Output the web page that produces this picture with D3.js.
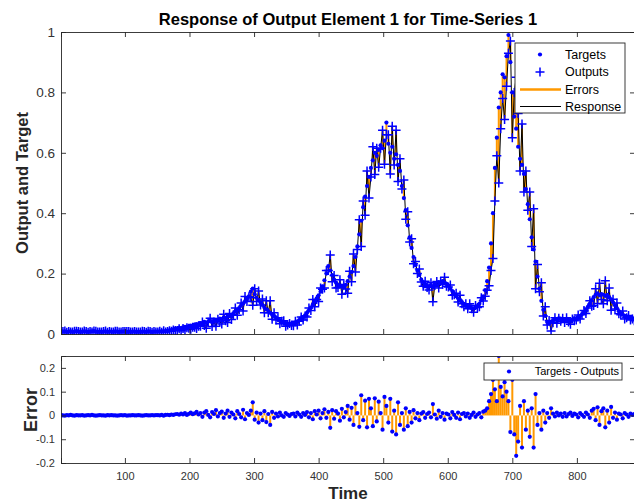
<!DOCTYPE html>
<html>
<head>
<meta charset="utf-8">
<script src="https://cdn.jsdelivr.net/npm/d3@7"></script>
<style>
  body { margin: 0; background: #fff; }
  svg { font-family: "Liberation Sans", Arial, sans-serif; }
</style>
</head>
<body>
<div id="chart"></div>
<script>
// samples are read every 3rd time step
const timeStart = 1;
const timeStep = 3;

// target values
const targets = [
  0.010,0.008,0.009,0.007,0.008,0.009,0.007,0.008,0.010,0.008,
  0.007,0.008,0.009,0.008,0.007,0.008,0.009,0.010,0.008,0.007,
  0.008,0.007,0.008,0.009,0.007,0.008,0.008,0.007,0.009,0.008,
  0.007,0.008,0.008,0.009,0.007,0.008,0.007,0.008,0.008,0.007,
  0.008,0.007,0.008,0.008,0.007,0.009,0.008,0.007,0.008,0.008,
  0.008,0.009,0.008,0.010,0.009,0.011,0.012,0.013,0.015,0.017,
  0.018,0.020,0.019,0.022,0.024,0.023,0.026,0.028,0.027,0.031,
  0.033,0.030,0.036,0.034,0.040,0.037,0.041,0.044,0.039,0.046,
  0.048,0.045,0.051,0.049,0.055,0.052,0.058,0.062,0.060,0.068,
  0.074,0.080,0.086,0.095,0.100,0.108,0.118,0.125,0.140,0.150,
  0.132,0.120,0.112,0.104,0.096,0.088,0.082,0.076,0.070,0.064,
  0.060,0.054,0.050,0.046,0.042,0.038,0.036,0.034,0.033,0.034,
  0.035,0.038,0.042,0.046,0.050,0.056,0.062,0.070,0.078,0.088,
  0.098,0.108,0.118,0.128,0.140,0.158,0.178,0.200,0.225,0.210,
  0.195,0.180,0.170,0.162,0.158,0.160,0.155,0.163,0.175,0.190,
  0.205,0.225,0.255,0.290,0.330,0.375,0.420,0.455,0.490,0.520,
  0.550,0.575,0.600,0.590,0.610,0.625,0.615,0.640,0.700,0.630,
  0.600,0.620,0.580,0.595,0.560,0.540,0.490,0.450,0.410,0.360,
  0.320,0.285,0.255,0.228,0.210,0.195,0.180,0.172,0.165,0.160,
  0.158,0.162,0.155,0.165,0.160,0.172,0.168,0.175,0.170,0.166,
  0.160,0.150,0.142,0.132,0.125,0.118,0.112,0.106,0.100,0.096,
  0.092,0.090,0.086,0.084,0.088,0.092,0.100,0.112,0.125,0.145,
  0.175,0.220,0.300,0.400,0.550,0.650,0.750,0.800,0.860,0.850,
  0.920,0.990,0.900,0.800,0.720,0.680,0.620,0.580,0.560,0.530,
  0.480,0.430,0.380,0.320,0.280,0.240,0.190,0.150,0.110,0.080,
  0.060,0.040,0.035,0.040,0.045,0.050,0.048,0.052,0.050,0.046,
  0.048,0.050,0.046,0.044,0.048,0.052,0.050,0.055,0.060,0.066,
  0.072,0.080,0.090,0.100,0.112,0.122,0.130,0.135,0.128,0.132,
  0.130,0.126,0.130,0.122,0.115,0.105,0.095,0.085,0.075,0.068,
  0.064,0.060,0.058,0.055,0.054,0.052,0.050
];

// targets - outputs
const errors = [
  0.001,0.000,-0.001,0.001,0.000,0.002,0.000,-0.001,0.001,0.000,
  0.000,0.001,-0.001,0.000,0.001,0.000,0.002,0.000,-0.001,0.000,
  0.001,0.000,0.000,-0.001,0.001,0.000,0.001,0.000,0.000,-0.001,
  0.000,0.001,0.000,0.001,-0.001,0.000,0.000,0.001,0.000,0.000,
  0.001,0.000,-0.001,0.000,0.001,0.000,0.000,0.001,0.000,0.001,
  0.001,0.000,0.002,-0.001,0.002,0.003,0.001,0.004,0.002,0.005,
  0.006,0.003,0.008,0.004,0.010,0.002,0.007,0.012,0.005,0.009,
  0.015,0.004,0.010,-0.006,0.012,0.018,0.002,-0.008,0.014,0.006,
  0.022,-0.004,0.010,0.016,-0.010,0.008,0.020,-0.006,0.012,0.004,
  -0.012,0.018,0.006,-0.008,0.024,-0.016,0.010,0.002,0.020,0.055,
  -0.018,0.012,-0.030,0.008,-0.020,0.018,-0.028,0.006,-0.040,0.015,
  -0.010,0.008,-0.004,0.012,0.000,-0.006,0.010,0.004,-0.002,0.006,
  0.008,-0.004,0.012,0.004,-0.006,0.010,0.002,0.014,-0.008,0.010,
  -0.016,0.018,0.004,0.020,-0.012,0.010,0.026,-0.010,0.015,-0.052,
  0.022,-0.014,0.018,0.008,-0.022,0.028,-0.008,0.014,0.040,-0.018,
  0.032,-0.040,0.050,0.010,-0.048,0.085,-0.020,0.062,-0.050,0.070,
  0.030,-0.045,0.072,-0.025,0.058,0.010,-0.060,0.078,0.040,-0.030,
  0.070,-0.068,0.020,-0.080,0.055,-0.040,0.010,-0.060,0.030,-0.045,
  0.015,-0.030,0.022,-0.012,0.010,-0.020,0.008,0.014,-0.010,0.006,
  0.012,-0.008,0.048,0.004,-0.014,0.020,-0.006,0.010,-0.018,0.008,
  0.004,-0.012,0.014,0.002,-0.010,0.012,-0.016,0.006,0.010,-0.004,
  0.008,-0.010,0.002,0.012,-0.006,0.004,0.010,-0.008,0.016,0.020,
  0.030,0.060,0.090,0.150,0.110,0.060,0.250,0.120,0.080,0.140,
  0.100,0.060,-0.070,0.150,-0.080,-0.170,-0.110,0.040,-0.135,0.060,
  -0.060,0.020,-0.090,0.030,-0.135,0.090,-0.040,0.010,-0.060,0.020,
  -0.030,0.010,-0.010,0.030,0.008,-0.004,0.012,0.000,0.008,-0.006,
  0.010,-0.004,0.006,0.012,-0.002,0.008,0.004,-0.008,0.010,0.002,
  -0.006,0.012,0.004,-0.010,0.020,0.028,-0.020,0.034,-0.040,0.018,
  0.030,-0.050,0.020,-0.030,0.036,-0.010,0.012,-0.018,0.008,0.004,
  -0.012,0.010,0.004,-0.006,0.008,0.002,0.006
];

const xTickValues = [100, 200, 300, 400, 500, 600, 700, 800];
const yTicksTop = [0, 0.2, 0.4, 0.6, 0.8, 1];
const yTicksBottom = [-0.2, -0.1, 0, 0.1, 0.2];

const blue = "#0000ff";
const orange = "#ff9900";
const axisColor = "#262626";
const plusPath = "M-4.5,0H4.5M0,-4.5V4.5";

const n = Math.min(targets.length, errors.length);
const data = d3.range(n).map(i => ({
  t: timeStart + i * timeStep,
  target: targets[i],
  error: errors[i],
  output: targets[i] - errors[i]
}));

const svg = d3.select("#chart")
  .append("svg")
  .attr("width", 634)
  .attr("height", 504);

// scales (right edge of the boxes sits just past the window)
const x = d3.scaleLinear().domain([1, 890]).range([61, 635]);
const yTop = d3.scaleLinear().domain([0, 1]).range([334, 32]);
const yBot = d3.scaleLinear().domain([-0.2, 0.25]).range([463, 356]);

// clip paths for both axes
const defs = svg.append("defs");
defs.append("clipPath").attr("id", "clipTop")
  .append("rect").attr("x", 61).attr("y", 31).attr("width", 574).attr("height", 304);
defs.append("clipPath").attr("id", "clipBot")
  .append("rect").attr("x", 61).attr("y", 356).attr("width", 574).attr("height", 107);

// ---------- upper plot ----------
const topPlot = svg.append("g").attr("clip-path", "url(#clipTop)");

topPlot.selectAll(".err")
  .data(data)
  .enter()
  .append("line")
  .attr("x1", d => x(d.t)).attr("x2", d => x(d.t))
  .attr("y1", d => yTop(d.target)).attr("y2", d => yTop(d.output))
  .attr("stroke", orange)
  .attr("stroke-width", 2);

topPlot.append("path")
  .datum(data)
  .attr("fill", "none")
  .attr("stroke", "#000")
  .attr("stroke-width", 1)
  .attr("d", d3.line().x(d => x(d.t)).y(d => yTop(d.output)));

topPlot.selectAll(".tgt")
  .data(data)
  .enter()
  .append("circle")
  .attr("cx", d => x(d.t))
  .attr("cy", d => yTop(d.target))
  .attr("r", 2.1)
  .attr("fill", blue);

topPlot.selectAll(".out")
  .data(data)
  .enter()
  .append("path")
  .attr("transform", d => `translate(${x(d.t)},${yTop(d.output)})`)
  .attr("d", plusPath)
  .attr("stroke", blue)
  .attr("stroke-width", 1.5)
  .attr("fill", "none");

// ---------- lower plot ----------
const botPlot = svg.append("g").attr("clip-path", "url(#clipBot)");

botPlot.selectAll(".stem")
  .data(data)
  .enter()
  .append("line")
  .attr("x1", d => x(d.t)).attr("x2", d => x(d.t))
  .attr("y1", yBot(0)).attr("y2", d => yBot(d.error))
  .attr("stroke", orange)
  .attr("stroke-width", 2);

botPlot.selectAll(".edot")
  .data(data)
  .enter()
  .append("circle")
  .attr("cx", d => x(d.t))
  .attr("cy", d => yBot(d.error))
  .attr("r", 2.1)
  .attr("fill", blue);

// ---------- axes ----------
function drawBox(yScale, yTicks, showXLabels, fontSize) {
  const [y0, y1] = yScale.range();
  const g = svg.append("g");

  const bottomAxis = d3.axisBottom(x).tickValues(xTickValues).tickSize(-5).tickPadding(9)
    .tickFormat(showXLabels ? d3.format("d") : "");
  const topAxis = d3.axisTop(x).tickValues(xTickValues).tickSize(-5).tickFormat("");
  const leftAxis = d3.axisLeft(yScale).tickValues(yTicks).tickSize(-5).tickPadding(6)
    .tickFormat(d => String(d));
  const rightAxis = d3.axisRight(yScale).tickValues(yTicks).tickSize(-5).tickFormat("");

  g.append("g").attr("transform", `translate(0,${y0})`).call(bottomAxis);
  g.append("g").attr("transform", `translate(0,${y1})`).call(topAxis);
  g.append("g").attr("transform", "translate(61,0)").call(leftAxis);
  g.append("g").attr("transform", "translate(635,0)").call(rightAxis);

  g.selectAll(".domain").attr("stroke", axisColor).attr("stroke-width", 0.9);
  g.selectAll(".tick line").attr("stroke", axisColor).attr("stroke-width", 0.9);
  g.selectAll(".tick text")
    .attr("fill", "#333")
    .style("font-size", fontSize + "px")
    .style("font-family", '"Liberation Sans", Arial, sans-serif');
  return g;
}

drawBox(yTop, yTicksTop, false, 13.5);
drawBox(yBot, yTicksBottom, true, 11);

// ---------- titles and labels ----------
svg.append("text")
  .attr("x", 348).attr("y", 25)
  .attr("text-anchor", "middle")
  .style("font-size", "16.5px").style("font-weight", "bold")
  .text("Response of Output Element 1 for Time-Series 1");

svg.append("text")
  .attr("transform", "translate(28,183) rotate(-90)")
  .attr("text-anchor", "middle")
  .style("font-size", "16.5px").style("font-weight", "bold")
  .attr("fill", "#262626")
  .text("Output and Target");

svg.append("text")
  .attr("transform", "translate(37,410) rotate(-90)")
  .attr("text-anchor", "middle")
  .style("font-size", "18px").style("font-weight", "bold")
  .attr("fill", "#262626")
  .text("Error");

svg.append("text")
  .attr("x", 348).attr("y", 499)
  .attr("text-anchor", "middle")
  .style("font-size", "17px").style("font-weight", "bold")
  .attr("fill", "#262626")
  .text("Time");

// ---------- legends ----------
const legendTop = svg.append("g");
legendTop.append("rect")
  .attr("x", 515).attr("y", 43).attr("width", 110).attr("height", 70)
  .attr("fill", "#fff").attr("stroke", axisColor).attr("stroke-width", 0.9);

const legendItems = ["Targets", "Outputs", "Errors", "Response"];
const legendY = [54.5, 72, 89.5, 106.5];

legendItems.forEach((name, i) => {
  const yy = legendY[i];
  if (name === "Targets") {
    legendTop.append("circle").attr("cx", 540).attr("cy", yy).attr("r", 2.1).attr("fill", blue);
  } else if (name === "Outputs") {
    legendTop.append("path")
      .attr("transform", `translate(540,${yy})`)
      .attr("d", plusPath)
      .attr("stroke", blue).attr("stroke-width", 1.5);
  } else {
    legendTop.append("line")
      .attr("x1", 520).attr("x2", 561).attr("y1", yy).attr("y2", yy)
      .attr("stroke", name === "Errors" ? orange : "#000")
      .attr("stroke-width", name === "Errors" ? 2.5 : 1.2);
  }
  legendTop.append("text")
    .attr("x", 565).attr("y", yy).attr("dy", "0.35em")
    .style("font-size", "12.5px")
    .attr("fill", "#000")
    .text(name);
});

const legendBot = svg.append("g");
legendBot.append("rect")
  .attr("x", 484).attr("y", 363).attr("width", 138).attr("height", 17)
  .attr("fill", "#fff").attr("stroke", axisColor).attr("stroke-width", 0.9);
legendBot.append("circle").attr("cx", 509).attr("cy", 371.5).attr("r", 2.1).attr("fill", blue);
legendBot.append("text")
  .attr("x", 619).attr("y", 371.5).attr("dy", "0.35em")
  .attr("text-anchor", "end")
  .style("font-size", "11px")
  .text("Targets - Outputs");
</script>
</body>
</html>
